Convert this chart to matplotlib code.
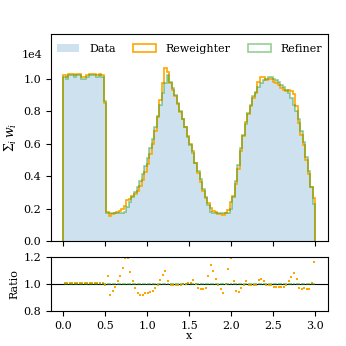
import numpy as np
import matplotlib.pyplot as plt

# ==============================
# DATA (bin contents in units of 1e4, 100 bins on [0, 3])
# ==============================

edges = np.linspace(0, 3, 101)

data = [
    1.01, 1.00, 1.02, 1.02, 1.01, 1.02, 1.02, 1.00, 1.00, 1.01,
    1.02, 1.02, 1.02, 1.01, 1.02, 1.01, 0.86, 0.17, 0.17, 0.175,
    0.175, 0.175, 0.175, 0.175, 0.18, 0.21, 0.24, 0.27, 0.30, 0.33,
    0.37, 0.41, 0.46, 0.51, 0.57, 0.63, 0.70, 0.77, 0.84, 0.91,
    0.97, 1.02, 0.98, 0.94, 0.90, 0.85, 0.80, 0.75, 0.70, 0.64,
    0.59, 0.54, 0.48, 0.43, 0.38, 0.32, 0.27, 0.22, 0.18, 0.17,
    0.17, 0.17, 0.17, 0.17, 0.17, 0.17, 0.20, 0.27, 0.37, 0.47,
    0.57, 0.65, 0.72, 0.79, 0.84, 0.89, 0.92, 0.95, 0.97, 0.99,
    1.00, 1.01, 1.01, 1.00, 0.99, 0.98, 0.96, 0.95, 0.93, 0.91,
    0.88, 0.84, 0.80, 0.75, 0.68, 0.61, 0.52, 0.43, 0.33, 0.23,
]

# Reweighter / Data
rew_ratio = [
    1.01, 1.01, 1.01, 1.01, 1.01, 1.01, 1.01, 1.01, 1.01, 1.01,
    1.01, 1.01, 1.01, 1.01, 1.01, 1.01, 0.99, 1.06, 0.92, 0.95,
    0.98, 1.02, 1.06, 1.12, 1.19, 1.19, 1.09, 1.02, 0.97, 0.93,
    0.92, 0.92, 0.93, 0.93, 0.94, 0.95, 0.97, 0.99, 1.03, 1.07,
    1.10, 1.02, 0.99, 0.99, 0.99, 0.99, 0.99, 1.00, 1.00, 1.01,
    1.01, 1.03, 1.00, 0.97, 0.96, 0.96, 0.97, 1.06, 1.14, 1.10,
    1.04, 0.99, 0.96, 0.93, 1.00, 1.11, 1.19, 1.02, 0.95, 0.94,
    0.97, 0.99, 1.02, 0.99, 0.99, 0.99, 0.99, 1.03, 1.04, 1.02,
    0.99, 0.99, 0.99, 0.98, 0.98, 0.98, 0.98, 0.98, 0.99, 1.02,
    1.05, 1.08, 1.04, 0.97, 0.96, 0.97, 0.96, 0.96, 1.01, 1.16,
]

# Refiner sits on the data in every bin (ratio reads 1.0 everywhere)
ref_ratio = [1.0] * len(data)

data = np.array(data)
reweighter = data * np.array(rew_ratio)
refiner = data * np.array(ref_ratio)
centers = 0.5 * (edges[1:] + edges[:-1])

# ==============================
# PLOT
# ==============================

plt.rcParams["font.family"] = "serif"
plt.rcParams["mathtext.fontset"] = "dejavuserif"
plt.rcParams["font.size"] = 8

fig = plt.figure(figsize=(3.46, 3.46), dpi=100)
ax = fig.add_axes([0.147, 0.3035, 0.801, 0.598])
rax = fig.add_axes([0.147, 0.1012, 0.801, 0.1557])

ax.hist(centers, bins=edges, weights=data, histtype="bar",
        color="C0", alpha=0.22, label="Data")
ax.hist(centers, bins=edges, weights=reweighter, histtype="step",
        color="orange", lw=1.2, label="Reweighter")
ax.hist(centers, bins=edges, weights=refiner, histtype="step",
        color="tab:green", alpha=0.5, lw=1.2, label="Refiner")

ax.set_xlim(-0.15, 3.15)
ax.set_ylim(0, 1.274)
ax.set_yticks([0.0, 0.2, 0.4, 0.6, 0.8, 1.0])
ax.set_xticks([0.0, 0.5, 1.0, 1.5, 2.0, 2.5, 3.0])
ax.tick_params(labelbottom=False)
ax.set_ylabel(r"$\Sigma_i\, w_i$", fontsize=9)
ax.text(-0.03, 0.9, "1e4", transform=ax.transAxes, ha="right", va="center")
ax.legend(loc="upper center", ncol=3, frameon=False, columnspacing=1.6,
          handletextpad=0.9)

rax.axhline(1.0, color="k", lw=0.8)
rax.plot(centers, rew_ratio, "s", color="orange", ms=2.0, mew=0)
rax.plot(centers, ref_ratio, "s", color="tab:green", alpha=0.5, ms=1.8, mew=0)
rax.set_xlim(-0.15, 3.15)
rax.set_ylim(0.8, 1.2)
rax.set_yticks([0.8, 1.0, 1.2])
rax.set_xticks([0.0, 0.5, 1.0, 1.5, 2.0, 2.5, 3.0])
rax.set_ylabel("Ratio")
rax.set_xlabel("x", labelpad=0)

ax.yaxis.set_label_coords(-0.115, 0.5)
rax.yaxis.set_label_coords(-0.115, 0.5)

fig.savefig("out.png", dpi=100)
